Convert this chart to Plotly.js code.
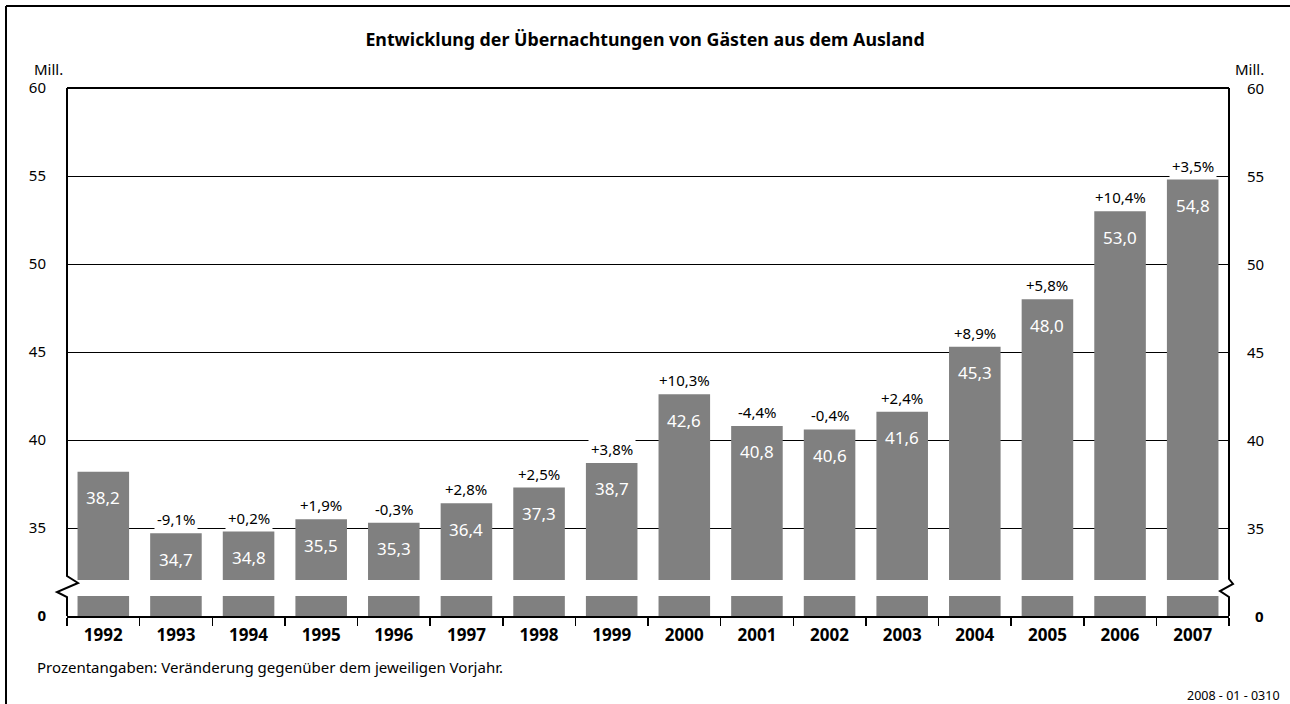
<!DOCTYPE html>
<html>
<head>
<meta charset="utf-8">
<script src="https://cdn.plot.ly/plotly-3.0.1.min.js"></script>
<style>
html,body{margin:0;padding:0;background:#fff;}
#chart{width:1290px;height:704px;}
</style>
</head>
<body>
<div id="chart"></div>
<script>
// ---- data ----
const years = ['1992','1993','1994','1995','1996','1997','1998','1999','2000','2001','2002','2003','2004','2005','2006','2007'];
const values = [38.2,34.7,34.8,35.5,35.3,36.4,37.3,38.7,42.6,40.8,40.6,41.6,45.3,48.0,53.0,54.8];
const changes = [null,-9.1,0.2,1.9,-0.3,2.8,2.5,3.8,10.3,-4.4,-0.4,2.4,8.9,5.8,10.4,3.5];
const tickVals = [30,35,40,45,50,55,60];
const tickText = ['<b>0</b>','35','40','45','50','55','60'];

const FONT = 'Noto Sans, Open Sans, DejaVu Sans, sans-serif';
const fmt = v => v.toFixed(1).replace('.', ',');
const fmtPct = v => (v > 0 ? '+' : '') + v.toFixed(1).replace('.', ',') + '%';

// geometry helpers for decorations
const M = {l:67, r:61, t:88, b:88};
const W = 1290 - M.l - M.r, H = 704 - M.t - M.b;
const px2x = px => (px - M.l) / W;           // paper x from pixel
const px2y = py => (704 - M.b - py) / H;     // paper y from pixel

const annotations = [];
years.forEach((yr, i) => {
  annotations.push({
    x: i, y: values[i], xref: 'x', yref: 'y',
    text: fmt(values[i]), showarrow: false,
    yanchor: 'middle', yshift: -26,
    font: {family: FONT, size: 17, color: '#ffffff'}
  });
  if (changes[i] !== null) {
    annotations.push({
      x: i, y: values[i], xref: 'x', yref: 'y',
      text: fmtPct(changes[i]), showarrow: false,
      yanchor: 'middle', yshift: 14,
      bgcolor: '#ffffff', borderpad: 2,
      font: {family: FONT, size: 15, color: '#000000'}
    });
  }
});
// right-side tick labels
tickVals.forEach((v, i) => {
  annotations.push({xref:'paper', yref:'y', x: px2x(1266), y: v, xanchor:'right', yanchor:'middle',
    text: tickText[i], showarrow:false, font:{family:FONT, size:15, color:'#000'}});
});
// Mill. labels
annotations.push({xref:'paper', yref:'paper', x: px2x(32), y: px2y(69), xanchor:'left', yanchor:'middle',
  text:'Mill.', showarrow:false, font:{family:FONT, size:15, color:'#000'}});
annotations.push({xref:'paper', yref:'paper', x: px2x(1266), y: px2y(69), xanchor:'right', yanchor:'middle',
  text:'Mill.', showarrow:false, font:{family:FONT, size:15, color:'#000'}});
// footnote
annotations.push({xref:'paper', yref:'paper', x: px2x(35), y: px2y(667), xanchor:'left', yanchor:'middle',
  text:'Prozentangaben: Veränderung gegenüber dem jeweiligen Vorjahr.', showarrow:false,
  font:{family:FONT, size:15, color:'#000'}});
annotations.push({xref:'paper', yref:'paper', x: px2x(1282), y: px2y(695), xanchor:'right', yanchor:'middle',
  text:'2008 - 01 - 0310', showarrow:false, font:{family:FONT, size:12.5, color:'#000'}});

const shapes = [
  // axis break band
  {type:'rect', xref:'paper', yref:'paper', x0: px2x(55), x1: px2x(1240), y0: px2y(596), y1: px2y(580),
   fillcolor:'#ffffff', line:{width:0}, layer:'above'},
  // top border of plot
  {type:'line', xref:'paper', yref:'paper', x0: 0, x1: 1, y0: 1, y1: 1, line:{color:'#000', width:2}, layer:'above'},
  // left axis with zigzag
  {type:'path', xref:'paper', yref:'paper', layer:'above', line:{color:'#000', width:2},
   path: 'M ' + px2x(67) + ' ' + px2y(88) + ' L ' + px2x(67) + ' ' + px2y(576) +
         ' L ' + px2x(78) + ' ' + px2y(583) + ' L ' + px2x(57) + ' ' + px2y(592) +
         ' L ' + px2x(67) + ' ' + px2y(597) + ' L ' + px2x(67) + ' ' + px2y(616)},
  // right axis with zigzag
  {type:'path', xref:'paper', yref:'paper', layer:'above', line:{color:'#000', width:2},
   path: 'M ' + px2x(1229) + ' ' + px2y(88) + ' L ' + px2x(1229) + ' ' + px2y(579) +
         ' L ' + px2x(1233) + ' ' + px2y(584) + ' L ' + px2x(1220) + ' ' + px2y(591) +
         ' L ' + px2x(1229) + ' ' + px2y(597) + ' L ' + px2x(1229) + ' ' + px2y(616)},
  // outer frame: top and left
  {type:'line', xref:'paper', yref:'paper', x0: px2x(6), x1: px2x(1290), y0: px2y(6), y1: px2y(6),
   line:{color:'#000', width:2}, layer:'above'},
  {type:'line', xref:'paper', yref:'paper', x0: px2x(6), x1: px2x(6), y0: px2y(6), y1: px2y(704),
   line:{color:'#000', width:2}, layer:'above'}
];

const traces = [
  {type:'bar', x: years, y: values, marker:{color:'#808080'}, width: 0.71,
   hoverinfo:'x+y'}
];

const layout = {
  width: 1290, height: 704,
  margin: M,
  paper_bgcolor:'#ffffff', plot_bgcolor:'#ffffff',
  showlegend:false,
  title: {text:'<b>Entwicklung der Übernachtungen von Gästen aus dem Ausland</b>',
          font:{family:FONT, size:17.8, color:'#000'}, x:0.5, xanchor:'center', y: 1 - 40/704, yanchor:'middle'},
  xaxis: {type:'category', categoryorder:'array', categoryarray: years, range:[-0.5, years.length - 0.5],
          showgrid:false, zeroline:false,
          showline:true, linecolor:'#000', linewidth:2,
          ticks:'outside', tickson:'boundaries', ticklen:8, tickwidth:1.5, tickcolor:'#000',
          tickangle:0, ticklabelstandoff:3,
          tickfont:{family:FONT, size:17, color:'#000', weight:'bold'},
          fixedrange:true},
  yaxis: {range:[30,60], tickvals: tickVals, ticktext: tickText,
          showgrid:true, gridcolor:'#000', gridwidth:1, zeroline:false, showline:false,
          ticks:'outside', ticklen:17, tickcolor:'rgba(0,0,0,0)',
          tickfont:{family:FONT, size:15, color:'#000'}, fixedrange:true},
  annotations: annotations,
  shapes: shapes
};

Plotly.newPlot('chart', traces, layout, {displayModeBar:false, staticPlot:true});
</script>
</body>
</html>
